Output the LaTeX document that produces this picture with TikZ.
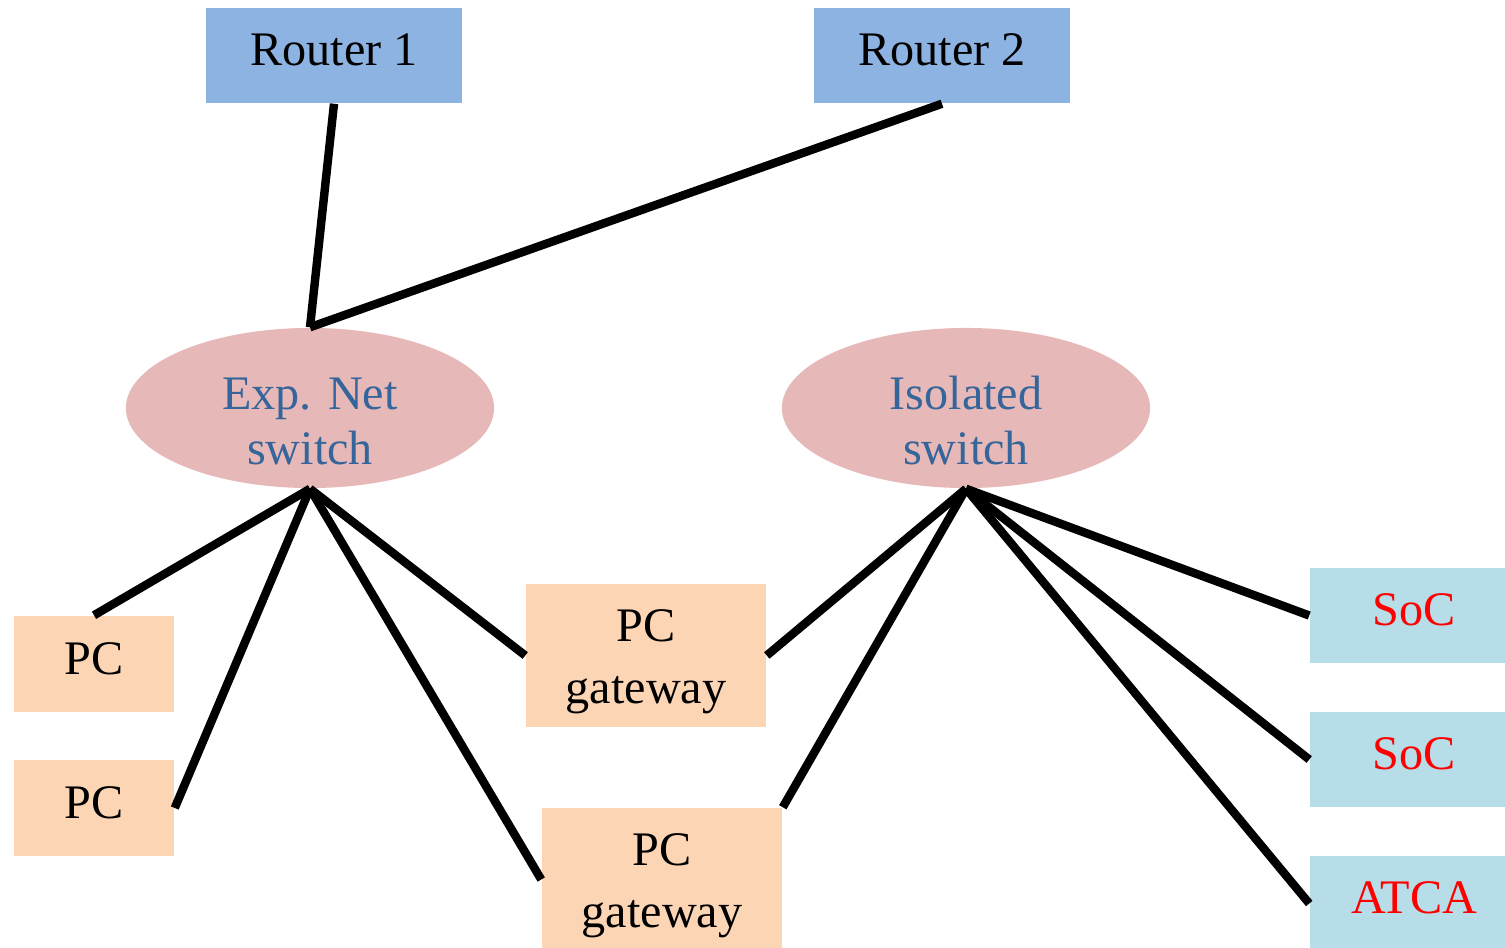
\documentclass[tikz,border=0pt]{standalone}
\usepackage{fontspec}
\setmainfont{Liberation Serif}
\usetikzlibrary{shapes.geometric}
\definecolor{routerblue}{HTML}{8DB3E2}
\definecolor{switchpink}{HTML}{E6B9B8}
\definecolor{pcorange}{HTML}{FCD5B5}
\definecolor{socblue}{HTML}{B7DDE8}
\definecolor{switchtext}{HTML}{35659A}

\begin{document}
\begin{tikzpicture} [x = 0.01cm, y = -0.01cm, font = \fontsize{13.7}{15.6}\selectfont,
  box/.style = {inner sep = 0pt, text height = 0.35cm, text depth = 0.15cm},
  router/.style = {box, fill = routerblue, minimum width = 2.56cm, minimum height = 0.95cm},
  pc/.style = {box, fill = pcorange, minimum width = 1.60cm, minimum height = 0.96cm},
  gateway/.style = {inner sep = 0pt, fill = pcorange, align = center, minimum width = 2.40cm, minimum height = 1.43cm, text height = 1.00cm, text depth = 0.05cm},
  soc/.style = {box, fill = socblue, text = red, minimum width = 2.08cm, minimum height = 0.95cm},
  switch/.style = {ellipse, inner sep = 0pt, fill = switchpink, text = switchtext, align = center, minimum width = 3.68cm, minimum height = 1.60cm, text height = 1.12cm, text depth = -0.02cm},
  wire/.style = {line width = 2.4pt}]
\useasboundingbox (0,0) rectangle (1505,948);
% routers
\node[router] (r1) at (334,55.5) {Router 1};
\node[router] (r2) at (942,55.5) {Router 2};
% switches
\node[switch] (expsw) at (310,408) {Exp. Net\\switch};
\node[switch] (isosw) at (966,408) {Isolated\\switch};
% hosts
\node[pc] (pc1) at (94,664) {PC};
\node[pc] (pc2) at (94,808) {PC};
\node[gateway] (gw1) at (646,655.5) {PC\\[2pt]gateway};
\node[gateway] (gw2) at (662,879.5) {PC\\[2pt]gateway};
\node[soc] (soc1) at (1414,615.5) {SoC};
\node[soc] (soc2) at (1414,759.5) {SoC};
\node[soc] (atca) at (1414,903.5) {ATCA};
% links
\draw [wire] (r1.south) -- (expsw.north);
\draw [wire] (r2.south) -- (expsw.north);
\draw [wire] (expsw.south) -- (pc1.north);
\draw [wire] (expsw.south) -- (pc2.east);
\draw [wire] (expsw.south) -- (gw1.west);
\draw [wire] (expsw.south) -- (gw2.west);
\draw [wire] (isosw.south) -- (gw1.east);
\draw [wire] (isosw.south) -- (gw2.north east);
\draw [wire] (isosw.south) -- (soc1.west);
\draw [wire] (isosw.south) -- (soc2.west);
\draw [wire] (isosw.south) -- (atca.west);
\end{tikzpicture}
\end{document}
